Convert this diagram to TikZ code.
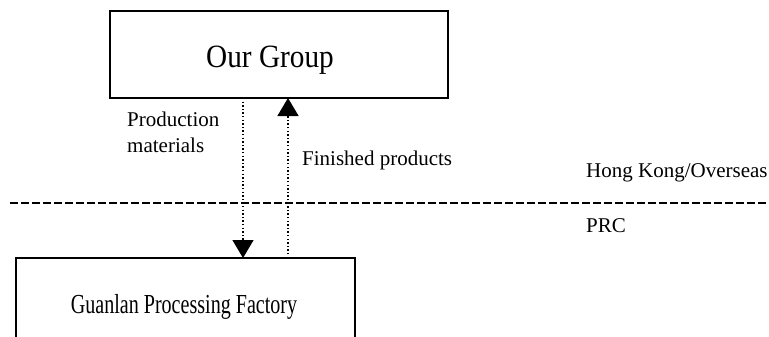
\documentclass[tikz,border=0pt]{standalone}
\usepackage{fontspec}
\setmainfont{Liberation Serif}
\newfontfamily\grpfont[FakeStretch=0.9]{Liberation Serif}
\newfontfamily\facfont[FakeStretch=0.73]{Liberation Serif}
\usetikzlibrary{arrows.meta}
\begin{document}
\begin{tikzpicture}[x=1pt,y=-1pt,
  box/.style={draw,line width=1.6pt},
  flow/.style={line width=1.4pt,dash pattern=on 1.4pt off 2.2pt,-{Triangle[width=21pt,length=18pt]}},
  lbl/.style={anchor=base west,inner sep=0pt,font=\fontsize{21}{25}\selectfont},
  border/.style={line width=2.4pt,dash pattern=on 8pt off 3pt}]
\useasboundingbox (0,0) rectangle (769,337);
% boxes
\draw[box] (110,11) rectangle (448,98);
\node[inner sep=0pt,anchor=base,font=\grpfont\fontsize{32.5}{32.5}\selectfont] (grp) at (270,67) {Our Group};
\draw[box] (16,345) -- (16,258) -- (355,258) -- (355,345);
\node[inner sep=0pt,anchor=base,font=\facfont\fontsize{27.5}{27.5}\selectfont] (fac) at (184,313) {Guanlan Processing Factory};
% connector end points on box borders
\coordinate (d1) at (243,98);
\coordinate (d2) at (243,258);
\coordinate (u1) at (288,258);
\coordinate (u2) at (288,98);
\draw[flow] (d1) -- (d2);
\draw[flow] (u1) -- (u2);
% labels
\node[lbl,align=left] (pm) at (127,152) {Production\\materials};
\node[lbl] (fp) at (302,165) {Finished products};
\node[lbl] (hk) at (586,177) {Hong Kong/Overseas};
\node[lbl] (prc) at (586,232) {PRC};
% border line
\coordinate (bl) at (10,203);
\coordinate (br) at (769,203);
\draw[border] (bl) -- (br);
\end{tikzpicture}
\end{document}
